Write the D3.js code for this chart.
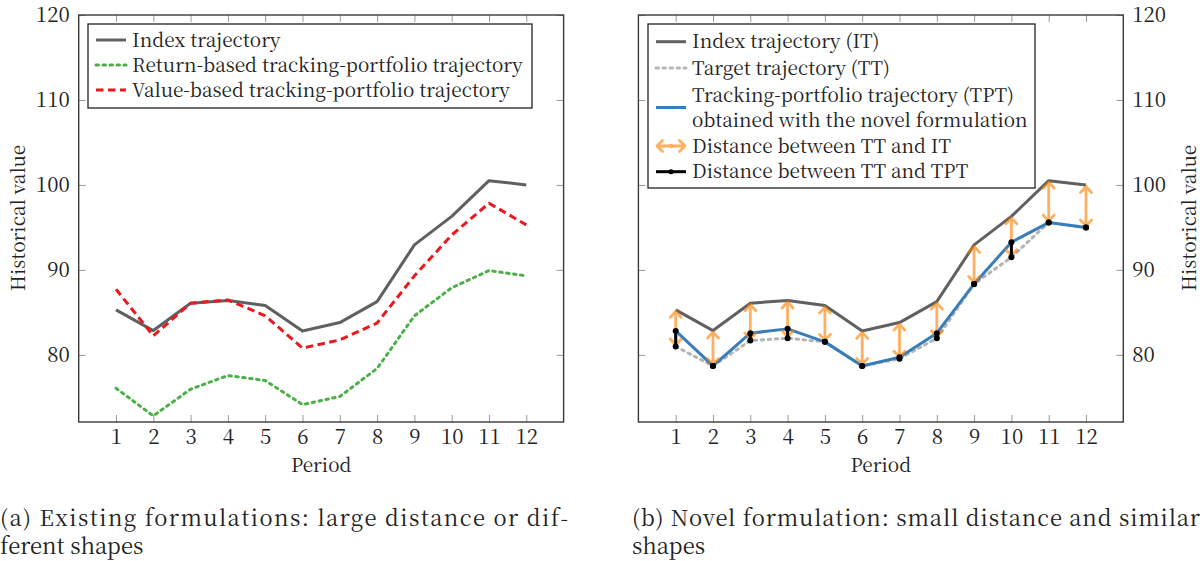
<!DOCTYPE html>
<html>
<head>
<meta charset="utf-8">
<script src="https://cdn.jsdelivr.net/npm/d3@7"></script>
<style>
  body { margin: 0; background: #fff; }
</style>
</head>
<body>
<svg id="chart" width="1202" height="561"></svg>
<script>
// values
var periods = [1, 2, 3, 4, 5, 6, 7, 8, 9, 10, 11, 12];
var yTicks = [80, 90, 100, 110, 120];
var indexTrajectory = [85.3, 82.86, 86.08, 86.4, 85.8, 82.82, 83.8, 86.27, 92.94, 96.3, 100.5, 100.0];
var returnBased = [76.08, 72.82, 75.96, 77.57, 76.98, 74.15, 75.1, 78.4, 84.6, 87.9, 89.92, 89.3];
var valueBased = [87.73, 82.24, 86.08, 86.47, 84.6, 80.8, 81.76, 83.75, 89.3, 94.1, 97.85, 95.3];
var targetTrajectory = [80.98, 78.7, 81.68, 81.96, 81.53, 78.7, 79.55, 81.96, 88.35, 91.49, 95.57, 94.98];
var trackingPortfolio = [82.82, 78.7, 82.55, 83.06, 81.53, 78.7, 79.73, 82.55, 88.35, 93.26, 95.57, 94.98];

var legendA = ["Index trajectory", "Return-based tracking-portfolio trajectory", "Value-based tracking-portfolio trajectory"];
var legendB = ["Index trajectory (IT)", "Target trajectory (TT)", "Tracking-portfolio trajectory (TPT)",
               "obtained with the novel formulation", "Distance between TT and IT", "Distance between TT and TPT"];
var captionA = ["(a) Existing formulations: large distance or dif-", "ferent shapes"];
var captionB = ["(b) Novel formulation: small distance and similar", "shapes"];

var FONT = "Noto Serif CJK SC";
var svg = d3.select("#chart");
var FS = 19, TICK_FS = 20.5;
var grey = "#606060", green = "#4daf4a", red = "#e8191f", blue = "#377eb8",
    orange = "#ff7f00", ttGrey = "#b5b5b5";

var y = d3.scaleLinear().domain([72.1, 120]).range([422, 15]);

function series(vals) { return periods.map(function(p, i) { return [p, vals[i]]; }); }

function txt(sel) {
  return sel.attr("font-family", FONT).attr("font-size", FS).attr("fill", "#222");
}

function frame(x, labelSide) {
  var g = svg.append("g");
  var x0 = x.range()[0], x1 = x.range()[1];
  var ticks = function(sel) {
    sel.selectAll(".domain").remove();
    sel.selectAll(".tick line").attr("stroke", "#999").attr("stroke-width", 1);
    sel.attr("font-family", FONT).attr("font-size", TICK_FS);
    sel.selectAll("text").attr("fill", "#222");
  };
  g.append("g").attr("transform", "translate(0,422)")
    .call(d3.axisBottom(x).tickValues(periods).tickSize(-7).tickPadding(7).tickFormat(d3.format("d"))).call(ticks);
  g.append("g").attr("transform", "translate(0,15)")
    .call(d3.axisTop(x).tickValues(periods).tickSize(-7).tickFormat("")).call(ticks);
  g.append("g").attr("transform", "translate(" + x0 + ",0)")
    .call(d3.axisLeft(y).tickValues(yTicks).tickSize(-7).tickPadding(9)
      .tickFormat(labelSide == "left" ? d3.format("d") : "")).call(ticks);
  g.append("g").attr("transform", "translate(" + x1 + ",0)")
    .call(d3.axisRight(y).tickValues(yTicks).tickSize(-7).tickPadding(9)
      .tickFormat(labelSide == "right" ? d3.format("d") : "")).call(ticks);
  g.append("rect").attr("x", x0).attr("y", 15).attr("width", x1 - x0).attr("height", 407)
    .attr("fill", "none").attr("stroke", "#3a3a3a").attr("stroke-width", 1.4);

  svg.append("text").attr("x", (x0 + x1) / 2).attr("y", 472).attr("text-anchor", "middle")
    .call(txt).text("Period");
  var lx = labelSide == "left" ? 25 : 1196;
  svg.append("text").attr("transform", "translate(" + lx + ",218) rotate(-90)")
    .attr("text-anchor", "middle").call(txt).text("Historical value");
}

function drawLine(x, vals, color, dash) {
  var line = d3.line().x(function(d) { return x(d[0]); }).y(function(d) { return y(d[1]); });
  svg.append("path").attr("d", line(series(vals))).attr("fill", "none")
    .attr("stroke", color).attr("stroke-width", 3)
    .attr("stroke-dasharray", dash || null)
    .attr("stroke-linecap", dash && dash.indexOf("2.5") == 0 ? "round" : "butt")
    .attr("stroke-linejoin", "round");
}

function arrowPath(xp, ya, yb) {
  // double-headed open arrow from ya to yb
  var dir = yb > ya ? 1 : -1;
  var t1 = ya + dir * 1.5, t2 = yb - dir * 1.5;
  var p = d3.path();
  p.moveTo(xp, t1); p.lineTo(xp, t2);
  p.moveTo(xp - 5.5, t1 + dir * 6); p.lineTo(xp, t1); p.lineTo(xp + 5.5, t1 + dir * 6);
  p.moveTo(xp - 5.5, t2 - dir * 6); p.lineTo(xp, t2); p.lineTo(xp + 5.5, t2 - dir * 6);
  return p.toString();
}

// ---------- panel (a) ----------
var xa = d3.scaleLinear().domain([0, 13]).range([78.7, 563.6]);
frame(xa, "left");
drawLine(xa, indexTrajectory, grey);
drawLine(xa, returnBased, green, "2.5,4.5");
drawLine(xa, valueBased, red, "7.5,4.5");

var lgA = svg.append("g");
lgA.append("rect").attr("x", 88).attr("y", 24).attr("width", 444).attr("height", 84)
  .attr("fill", "#fff").attr("stroke", "#222").attr("stroke-width", 1.3);
var styA = [[grey, null], [green, "2.5,4.5"], [red, "7.5,4.5"]];
legendA.forEach(function(t, i) {
  var cy = 40 + i * 25;
  lgA.append("line").attr("x1", 96).attr("x2", 126).attr("y1", cy).attr("y2", cy)
    .attr("stroke", styA[i][0]).attr("stroke-width", 3).attr("stroke-dasharray", styA[i][1])
    .attr("stroke-linecap", i == 1 ? "round" : "butt");
  lgA.append("text").attr("x", 132).attr("y", cy + 6.5).call(txt).text(t);
});

// ---------- panel (b) ----------
var xb = d3.scaleLinear().domain([0, 13]).range([638.4, 1123.3]);
frame(xb, "right");
drawLine(xb, indexTrajectory, grey);
drawLine(xb, targetTrajectory, ttGrey, "2.5,4.5");
drawLine(xb, trackingPortfolio, blue);

var arrows = svg.append("g").attr("opacity", 0.62);
periods.forEach(function(p, i) {
  arrows.append("path").attr("d", arrowPath(xb(p), y(targetTrajectory[i]), y(indexTrajectory[i])))
    .attr("fill", "none").attr("stroke", orange).attr("stroke-width", 2.8)
    .attr("stroke-linejoin", "round").attr("stroke-linecap", "round");
});
var dist = svg.append("g");
periods.forEach(function(p, i) {
  dist.append("line").attr("x1", xb(p)).attr("x2", xb(p))
    .attr("y1", y(targetTrajectory[i])).attr("y2", y(trackingPortfolio[i]))
    .attr("stroke", "#000").attr("stroke-width", 3);
  [targetTrajectory[i], trackingPortfolio[i]].forEach(function(v) {
    dist.append("circle").attr("cx", xb(p)).attr("cy", y(v)).attr("r", 3).attr("fill", "#000");
  });
});

var lgB = svg.append("g");
lgB.append("rect").attr("x", 648).attr("y", 24).attr("width", 387).attr("height", 164)
  .attr("fill", "#fff").attr("stroke", "#222").attr("stroke-width", 1.3);
var rowY = [41.7, 68, 95, 120, 146, 171.7];
legendB.forEach(function(t, i) {
  lgB.append("text").attr("x", 692).attr("y", rowY[i] + 6.5).call(txt).text(t);
});
[[grey, null, 41.7], [ttGrey, "2.5,4.5", 68], [blue, null, 107.5]].forEach(function(s) {
  lgB.append("line").attr("x1", 656).attr("x2", 686).attr("y1", s[2]).attr("y2", s[2])
    .attr("stroke", s[0]).attr("stroke-width", 3).attr("stroke-dasharray", s[1])
    .attr("stroke-linecap", s[1] ? "round" : "butt");
});
var la = lgB.append("g").attr("opacity", 0.62);
la.append("path").attr("d", "M657,146L685,146M662.5,140.5L657,146L662.5,151.5M679.5,140.5L685,146L679.5,151.5")
  .attr("fill", "none").attr("stroke", orange).attr("stroke-width", 2.8)
  .attr("stroke-linecap", "round").attr("stroke-linejoin", "round");
la.append("circle").attr("cx", 671).attr("cy", 146).attr("r", 2.2).attr("fill", orange);
lgB.append("line").attr("x1", 656).attr("x2", 686).attr("y1", 171.7).attr("y2", 171.7)
  .attr("stroke", "#000").attr("stroke-width", 3);
lgB.append("circle").attr("cx", 671).attr("cy", 171.7).attr("r", 2.5).attr("fill", "#000");

// ---------- captions ----------
function caption(x, lines, w) {
  svg.append("text").attr("x", x).attr("y", 526).call(txt).attr("font-size", 22)
    .attr("textLength", w).attr("lengthAdjust", "spacing").text(lines[0]);
  svg.append("text").attr("x", x).attr("y", 554).call(txt).attr("font-size", 22).text(lines[1]);
}
caption(0, captionA, 568);
caption(632, captionB, 568);
</script>
</body>
</html>
